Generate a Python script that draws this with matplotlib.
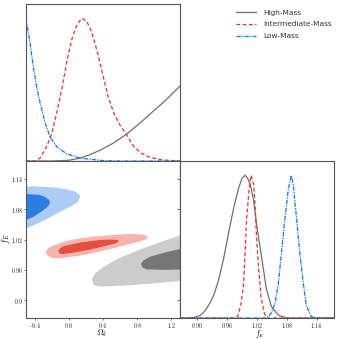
import matplotlib
matplotlib.use("Agg")
import matplotlib.pyplot as plt
from matplotlib.ticker import FixedLocator, FixedFormatter

plt.rcParams['mathtext.fontset'] = 'cm'

# ---- 1D marginal of Omega_k (top-left), peak-normalised ----
ok_high_x = [-0.5, -0.2, 0.0, 0.13, 0.25, 0.365, 0.52, 0.68, 0.83, 0.98, 1.14, 1.3]
ok_high_y = [0.0, 0.0, 0.005, 0.02, 0.045, 0.075, 0.125, 0.19, 0.265, 0.345, 0.43, 0.525]
ok_int_x = [-0.5, -0.395, -0.336, -0.26, -0.20, -0.14, -0.083, -0.025, 0.034, 0.092,
            0.15, 0.21, 0.27, 0.34, 0.40, 0.46, 0.53, 0.60, 0.68, 0.75, 0.83, 0.95, 1.10, 1.3]
ok_int_y = [0.0, 0.0, 0.02, 0.10, 0.19, 0.34, 0.50, 0.69, 0.85, 0.95,
            1.0, 0.98, 0.90, 0.75, 0.60, 0.45, 0.33, 0.25, 0.18, 0.11, 0.06, 0.025, 0.007, 0.0]
ok_low_x = [-0.5, -0.453, -0.415, -0.375, -0.336, -0.278, -0.22, -0.14, -0.025, 0.13, 0.4, 0.6, 1.3]
ok_low_y = [0.995, 0.83, 0.66, 0.52, 0.41, 0.27, 0.17, 0.10, 0.05, 0.02, 0.003, 0.0, 0.0]

# ---- 1D marginal of f_E (bottom-right) ----
fe_high_x = [0.866, 0.886, 0.896, 0.906, 0.914, 0.919, 0.926, 0.933, 0.943, 0.953, 0.963, 0.973,
             0.983, 0.990, 0.996, 1.001, 1.006, 1.013, 1.019, 1.026, 1.033, 1.039, 1.049, 1.063,
             1.079, 1.174]
fe_high_y = [0.0, 0.0, 0.006, 0.02, 0.045, 0.07, 0.11, 0.16, 0.27, 0.42, 0.60, 0.77,
             0.91, 0.98, 1.0, 0.98, 0.94, 0.83, 0.66, 0.50, 0.34, 0.20, 0.08, 0.02,
             0.0, 0.0]
fe_int_x = [0.866, 0.976, 0.981, 0.988, 0.993, 0.996, 0.999, 1.004, 1.008,
            1.013, 1.016, 1.019, 1.023, 1.028, 1.035, 1.041, 1.174]
fe_int_y = [0.0, 0.0, 0.01, 0.10, 0.24, 0.45, 0.69, 0.90, 1.0,
            0.94, 0.80, 0.57, 0.36, 0.15, 0.03, 0.0, 0.0]
fe_low_x = [0.866, 1.039, 1.048, 1.056, 1.063, 1.069, 1.076, 1.083, 1.089,
            1.093, 1.099, 1.106, 1.113, 1.119, 1.129, 1.14, 1.174]
fe_low_y = [0.0, 0.0, 0.03, 0.10, 0.24, 0.45, 0.69, 0.90, 1.0,
            0.93, 0.72, 0.46, 0.25, 0.09, 0.01, 0.0, 0.0]

# ---- 2D contours (Omega_k, f_E), outer = 95%, inner = 68% ----
low_outer_x = [-0.6, -0.41, -0.18, -0.025, 0.07, 0.10, 0.125, 0.13, 0.11, 0.05, -0.10, -0.26, -0.41, -0.6]
low_outer_y = [1.124, 1.125, 1.123, 1.119, 1.115, 1.112, 1.109, 1.104, 1.095, 1.088, 1.075, 1.06, 1.048, 1.036]
low_inner_x = [-0.6, -0.34, -0.28, -0.235, -0.22, -0.23, -0.26, -0.32, -0.41, -0.6]
low_inner_y = [1.111, 1.108, 1.104, 1.099, 1.094, 1.088, 1.083, 1.075, 1.065, 1.052]

int_outer_x = [-0.27, -0.24, -0.18, -0.05, 0.05, 0.25, 0.44, 0.62, 0.75, 0.86, 0.915, 0.92,
               0.90, 0.83, 0.64, 0.36, 0.13, -0.10, -0.18, -0.22, -0.26]
int_outer_y = [0.996, 1.003, 1.008, 1.016, 1.020, 1.025, 1.028, 1.030, 1.031, 1.030, 1.027, 1.024,
               1.020, 1.016, 1.008, 0.996, 0.988, 0.983, 0.983, 0.985, 0.990]
int_inner_x = [-0.12, -0.10, -0.06, 0.13, 0.36, 0.50, 0.57, 0.585, 0.54, 0.44, 0.25, 0.05, -0.08, -0.115]
int_inner_y = [0.998, 1.003, 1.007, 1.014, 1.019, 1.020, 1.019, 1.016, 1.012, 1.008, 1.0, 0.994, 0.991, 0.993]

high_outer_x = [0.27, 0.30, 0.40, 0.56, 0.83, 1.07, 1.30, 1.45, 1.45, 1.30, 0.75, 0.36, 0.29]
high_outer_y = [0.941, 0.952, 0.965, 0.981, 1.0, 1.015, 1.028, 1.035, 0.94, 0.938, 0.93, 0.927, 0.930]
high_inner_x = [0.845, 0.87, 0.95, 1.14, 1.30, 1.45, 1.45, 1.30, 1.14, 0.91, 0.86]
high_inner_y = [0.972, 0.978, 0.986, 0.995, 1.001, 1.005, 0.961, 0.961, 0.960, 0.961, 0.965]

ok_ticks = [-0.4, 0.0, 0.4, 0.8, 1.2]
ok_labels = ['$-0.4$', '$0.0$', '$0.4$', '$0.8$', '$1.2$']
fe_ticks = [0.90, 0.96, 1.02, 1.08, 1.14]
fe_xlabels = ['$0.90$', '$0.96$', '$1.02$', '$1.08$', '$1.14$']
fe_ylabels = ['$0.9$', '$0.96$', '$1.02$', '$1.08$', '$1.14$']

ok_lim = (-0.5, 1.3)
fe_lim = (0.865, 1.175)

c_high, c_int, c_low = '#707070', '#e3342b', '#1a73e8'
fill_high = ('#cccccc', '#767676')
fill_int = ('#f5b4ae', '#e4503f')
fill_low = ('#abcdf5', '#2a7ee2')
spine_c = '#555555'

fig = plt.figure(figsize=(3.39, 3.39), dpi=100)
W = 154 / 339
H = 157 / 339
ax_top = fig.add_axes([26 / 339, 1 - 161 / 339, W, H])
ax_2d = fig.add_axes([26 / 339, 1 - 318 / 339, W, H])
ax_fe = fig.add_axes([180 / 339, 1 - 318 / 339, W, H])

lw = 0.9
for ax in (ax_top, ax_2d, ax_fe):
    for s in ax.spines.values():
        s.set_color(spine_c)
        s.set_linewidth(0.8)
    ax.tick_params(colors=spine_c, width=0.6, length=1.5, direction='out',
                   labelsize=4.3, labelcolor='#222222', pad=0.4)

# top-left
ax_top.plot(ok_high_x, ok_high_y, color=c_high, lw=lw, ls='-')
ax_top.plot(ok_int_x, ok_int_y, color=c_int, lw=lw, ls=(0, (3, 2)))
ax_top.plot(ok_low_x, ok_low_y, color=c_low, lw=lw, ls=(0, (3.5, 1, 1, 1)))
ax_top.set_xlim(*ok_lim)
ax_top.set_ylim(0, 1.1)
ax_top.xaxis.set_major_locator(FixedLocator(ok_ticks))
ax_top.tick_params(labelbottom=False, left=False, labelleft=False)

# bottom-left
ax_2d.fill(high_outer_x, high_outer_y, color=fill_high[0], lw=0)
ax_2d.fill(high_inner_x, high_inner_y, color=fill_high[1], lw=0)
ax_2d.fill(int_outer_x, int_outer_y, color=fill_int[0], lw=0)
ax_2d.fill(int_inner_x, int_inner_y, color=fill_int[1], lw=0)
ax_2d.fill(low_outer_x, low_outer_y, color=fill_low[0], lw=0)
ax_2d.fill(low_inner_x, low_inner_y, color=fill_low[1], lw=0)
ax_2d.set_xlim(*ok_lim)
ax_2d.set_ylim(*fe_lim)
ax_2d.xaxis.set_major_locator(FixedLocator(ok_ticks))
ax_2d.xaxis.set_major_formatter(FixedFormatter(ok_labels))
ax_2d.yaxis.set_major_locator(FixedLocator(fe_ticks))
ax_2d.yaxis.set_major_formatter(FixedFormatter(fe_ylabels))
sec = ax_2d.secondary_yaxis('right')
sec.yaxis.set_major_locator(FixedLocator(fe_ticks))
sec.tick_params(direction='in', length=2.5, width=0.6, colors=spine_c, labelright=False)
sec.spines['right'].set_color(spine_c)
sec.spines['right'].set_linewidth(0.8)

# bottom-right
ax_fe.plot(fe_high_x, fe_high_y, color=c_high, lw=lw, ls='-')
ax_fe.plot(fe_int_x, fe_int_y, color=c_int, lw=lw, ls=(0, (3, 2)))
ax_fe.plot(fe_low_x, fe_low_y, color=c_low, lw=lw, ls=(0, (3.5, 1, 1, 1)))
ax_fe.set_xlim(*fe_lim)
ax_fe.set_ylim(0, 1.1)
ax_fe.xaxis.set_major_locator(FixedLocator(fe_ticks))
ax_fe.xaxis.set_major_formatter(FixedFormatter(fe_xlabels))
ax_fe.tick_params(left=False, labelleft=False)

# axis labels, placed in figure pixels like the reference
fig.text(102 / 339, 1 - 333.8 / 339, r'$\Omega_k$', fontsize=5.6, ha='center', va='center')
fig.text(5.5 / 339, 1 - 239 / 339, r'$f_E$', fontsize=6, ha='center', va='center', rotation=90)
fig.text(260 / 339, 1 - 334.3 / 339, r'$f_E$', fontsize=5.5, ha='center', va='center')

# legend (top-right empty cell)
handles = [
    plt.Line2D([], [], color=c_high, lw=lw, ls='-'),
    plt.Line2D([], [], color=c_int, lw=lw, ls=(0, (3, 2))),
    plt.Line2D([], [], color=c_low, lw=lw, ls=(0, (3.5, 1, 1, 1))),
]
fig.legend(handles, ['High-Mass', 'Intermediate-Mass', 'Low-Mass'],
           loc='upper left', bbox_to_anchor=(229 / 339, 1 - 3 / 339),
           frameon=False, prop={'family': 'DejaVu Sans', 'size': 5.3},
           handlelength=2.8, handletextpad=0.9, labelspacing=0.75,
           labelcolor='#333333')

fig.savefig('out.png', dpi=100)
